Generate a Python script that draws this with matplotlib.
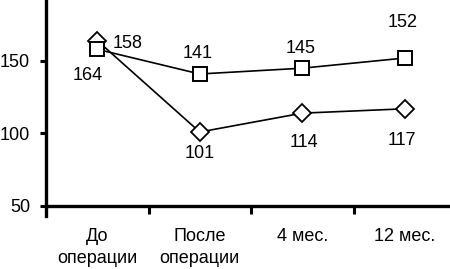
import numpy as np
import matplotlib.pyplot as plt

plt.rcParams['font.family'] = ['Liberation Sans', 'DejaVu Sans']

categories = ["До\nоперации", "После\nоперации", "4 мес.", "12 мес."]
squares = [158, 141, 145, 152]
diamonds = [164, 101, 114, 117]

# label offsets in pixels relative to each point
sq_offsets = [(30, 6), (-2, 20), (-2, 20), (-2, 36)]
di_offsets = [(-10, -35), (0, -21), (2, -29), (-3, -32)]

W, H = 450, 269
fig = plt.figure(figsize=(W / 100, H / 100), dpi=100)
ax = fig.add_axes([46 / W, 63 / H, 410 / W, 206 / H])

x = np.arange(len(categories))
ax.plot(x, diamonds, color='black', lw=1.2, marker='D', ms=9,
        mfc='white', mec='black', mew=1.3, zorder=3)
ax.plot(x, squares, color='black', lw=1.2, marker='s', ms=9.5,
        mfc='white', mec='black', mew=1.4, zorder=4)

for xi, v, off in zip(x, squares, sq_offsets):
    ax.annotate(str(v), (xi, v), xytext=off, textcoords='offset pixels',
                ha='center', va='center', fontsize=13)
for xi, v, off in zip(x, diamonds, di_offsets):
    ax.annotate(str(v), (xi, v), xytext=off, textcoords='offset pixels',
                ha='center', va='center', fontsize=13)

ax.set_xlim(-0.5, 3.5)
ax.set_ylim(50, 192)
ax.set_yticks([50, 100, 150])
ax.set_xticks(x)
ax.set_xticklabels(categories, linespacing=1.4, fontsize=13, va='top')
ax.set_xticks(x[:-1] + 0.5, minor=True)
ax.tick_params(axis='x', which='major', length=0, pad=15.5)
ax.tick_params(axis='x', which='minor', length=6, width=2.2, direction='out')
ax.tick_params(axis='y', length=4.5, width=2.2, labelsize=13, pad=7)

ax.spines['top'].set_visible(False)
ax.spines['right'].set_visible(False)
ax.spines['left'].set_linewidth(2.4)
ax.spines['bottom'].set_linewidth(2.4)
ax.spines['left'].set_bounds(43, 192)

fig.savefig("out.png", dpi=100)
